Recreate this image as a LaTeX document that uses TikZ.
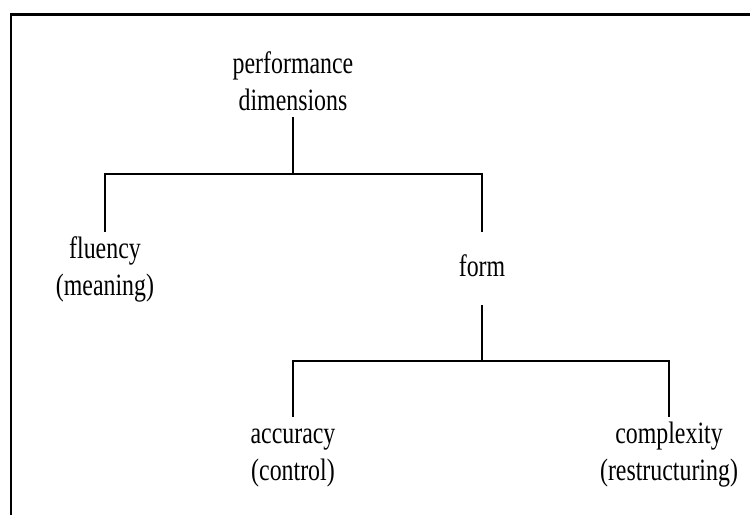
\documentclass[tikz,border=0pt]{standalone}
\usepackage{fontspec}
\setmainfont{Liberation Serif}[FakeStretch=0.77]
\begin{document}
\begin{tikzpicture}[x=1pt,y=-1pt,
  termtext/.style={inner sep=0pt, outer sep=0pt, anchor=base, text=black,
    font=\fontsize{31}{37}\selectfont},
  branch/.style={line width=1.7pt, draw=black}]
  % page extent
  \useasboundingbox (0,0) rectangle (750,515);
  % frame (top and left edges)
  \draw[line width=2.6pt, line join=miter] (11,515) -- (11,14.5) -- (750,14.5);

  % terms
  \node[termtext] (root) at (293,73)
    {\begin{tabular}[t]{@{}c@{}}performance\\dimensions\end{tabular}};
  \node[termtext] (fluency) at (105,258)
    {\begin{tabular}[t]{@{}c@{}}fluency\\(meaning)\end{tabular}};
  \node[termtext, outer ysep=18pt] (form) at (482,276) {\strut form};
  \node[termtext] (accuracy) at (293,443)
    {\begin{tabular}[t]{@{}c@{}}accuracy\\(control)\end{tabular}};
  \node[termtext] (complexity) at (669,443)
    {\begin{tabular}[t]{@{}c@{}}complexity\\(restructuring)\end{tabular}};

  % junctions
  \coordinate (j1) at (293,174);
  \coordinate (j2) at (482,361);

  % tree connectors
  \draw[branch, shorten <=-4pt] (root.south) -- (j1);
  \draw[branch] (fluency.north) |- (j1) -| (form.north);
  \draw[branch] (form.south) -- (j2);
  \draw[branch] (accuracy.north) |- (j2) -| (complexity.north);
\end{tikzpicture}
\end{document}
